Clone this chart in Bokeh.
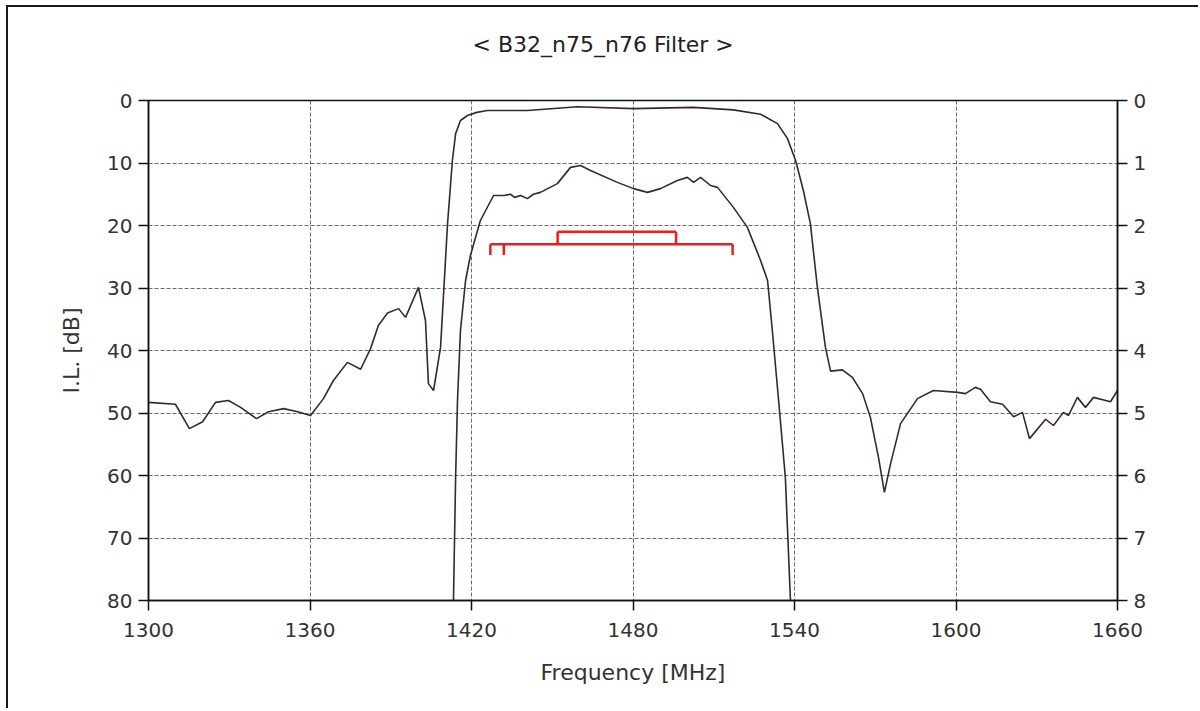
from bokeh.plotting import figure
from bokeh.models import Range1d, LinearAxis, FixedTicker, Title
from bokeh.embed import file_html
from bokeh.resources import INLINE

# Wide-band insertion loss (left axis, dB)
wide_freq = [1300.0, 1310.0, 1315.2, 1320.1, 1324.9, 1329.7, 1334.2, 1340.1, 1344.6, 1350.2,
             1355.4, 1360.2, 1365.0, 1368.7, 1373.9, 1378.8, 1382.5, 1385.4, 1388.8, 1392.9,
             1395.5, 1400.3, 1402.9, 1404.0, 1405.9, 1408.5, 1411.1, 1412.9, 1414.1, 1415.9,
             1418.5, 1422.0, 1425.9, 1440.8, 1459.4, 1480.2, 1502.5, 1517.3, 1527.4, 1533.7,
             1537.4, 1540.4, 1543.3, 1545.9, 1548.5, 1551.5, 1553.4, 1557.8, 1561.5, 1565.3,
             1568.2, 1571.2, 1573.4, 1575.7, 1579.4, 1585.7, 1591.6, 1600.6, 1603.5, 1607.2,
             1609.1, 1612.8, 1617.3, 1621.4, 1624.7, 1627.3, 1633.3, 1636.2, 1639.9, 1641.8,
             1645.1, 1648.1, 1651.1, 1657.4, 1660.0]
wide_il = [48.3, 48.6, 52.5, 51.4, 48.3, 48.0, 49.1, 50.9, 49.8, 49.3,
           49.8, 50.4, 47.7, 44.8, 41.9, 43.0, 39.7, 36.0, 34.0, 33.3,
           34.7, 29.9, 35.2, 45.3, 46.4, 39.5, 19.7, 9.6, 5.3, 3.2,
           2.4, 1.9, 1.6, 1.6, 1.0, 1.3, 1.1, 1.5, 2.2, 3.7,
           6.1, 9.6, 14.4, 19.7, 29.9, 39.5, 43.3, 43.1, 44.3, 46.9,
           50.7, 57.1, 62.7, 58.1, 51.7, 47.7, 46.4, 46.7, 46.9, 45.9,
           46.2, 48.2, 48.6, 50.6, 49.9, 54.1, 51.0, 52.0, 49.9, 50.4,
           47.5, 49.1, 47.5, 48.2, 46.4]

# Passband insertion loss (right axis, dB)
pb_freq = [1413.0, 1413.3, 1414.1, 1414.8, 1415.9, 1417.8, 1419.6, 1423.3, 1428.2, 1432.0,
           1434.5, 1436.0, 1438.2, 1440.8, 1443.0, 1445.6, 1451.9, 1456.8, 1460.5, 1464.2,
           1474.2, 1480.2, 1485.4, 1490.2, 1496.5, 1500.2, 1502.5, 1505.1, 1508.8, 1511.4,
           1517.3, 1522.5, 1527.4, 1530.0, 1531.8, 1534.1, 1536.6, 1538.5, 1538.8]
pb_il = [8.4, 8.0, 6.03, 4.8, 3.68, 2.88, 2.48, 1.92, 1.52, 1.52,
         1.50, 1.55, 1.52, 1.57, 1.50, 1.47, 1.33, 1.07, 1.04, 1.12,
         1.31, 1.41, 1.47, 1.41, 1.28, 1.23, 1.31, 1.23, 1.36, 1.39,
         1.71, 2.03, 2.56, 2.88, 3.70, 4.8, 6.03, 8.0, 8.4]

# Band edges (MHz)
band_names = ["n76", "n75", "B32"]
band_lo = [1427.0, 1432.0, 1452.0]
band_hi = [1432.0, 1517.0, 1496.0]

x_ticks = [1300, 1360, 1420, 1480, 1540, 1600, 1660]
left_ticks = [0, 10, 20, 30, 40, 50, 60, 70, 80]
right_ticks = [0, 1, 2, 3, 4, 5, 6, 7, 8]
title_text = "< B32_n75_n76 Filter >"

FONT = "DejaVu Sans"
CURVE = "#3a2828"
RED = "#ee1c1c"

p = figure(width=1192, height=703, output_backend="svg", toolbar_location=None,
           x_range=Range1d(1300, 1660), y_range=Range1d(80, 0),
           min_border_left=140, min_border_right=83, min_border_top=93, min_border_bottom=110)
p.margin = (5, 0, 0, 6)
p.extra_y_ranges = {"pb": Range1d(8, 0)}

p.background_fill_color = "white"
p.border_fill_color = "white"
p.outline_line_color = "#111111"
p.outline_line_width = 1.5
p.styles = {"border-top": "2px solid #1a1a1a", "border-left": "2px solid #1a1a1a"}

# spacer title (blank) next to the frame, real title further out
p.add_layout(Title(text=" ", text_font_size="10px", standoff=31), "above")
p.add_layout(Title(text=title_text, align="left", offset=324, standoff=0,
                   text_font=FONT, text_font_size="22px", text_font_style="normal",
                   text_color="#222222"), "above")

right_axis = LinearAxis(y_range_name="pb")
p.add_layout(right_axis, "right")

p.xaxis.ticker = FixedTicker(ticks=x_ticks)
p.yaxis[0].ticker = FixedTicker(ticks=left_ticks)
right_axis.ticker = FixedTicker(ticks=right_ticks)

p.xaxis.axis_label = "Frequency [MHz]"
p.yaxis[0].axis_label = "I.L. [dB]"

for ax in [p.xaxis[0], p.yaxis[0], right_axis]:
    ax.axis_line_color = "#111111"
    ax.axis_line_width = 1.5
    ax.major_tick_line_color = "#111111"
    ax.major_tick_line_width = 1.5
    ax.major_tick_out = 10
    ax.major_tick_in = 0
    ax.minor_tick_line_color = None
    ax.major_label_text_font = FONT
    ax.major_label_text_font_size = "20px"
    ax.major_label_text_color = "#333333"
    ax.major_label_standoff = 6
    ax.axis_label_text_font = FONT
    ax.axis_label_text_font_size = "22px"
    ax.axis_label_text_font_style = "normal"
    ax.axis_label_text_color = "#333333"

p.xaxis.major_label_standoff = 12
p.xaxis.axis_label_standoff = 20
p.yaxis[0].axis_label_standoff = 20

p.xgrid.ticker = FixedTicker(ticks=x_ticks)
p.ygrid.ticker = FixedTicker(ticks=left_ticks)
for g in [p.xgrid[0], p.ygrid[0]]:
    g.grid_line_color = "#6a6a6a"
    g.grid_line_dash = "4 2"
    g.grid_line_width = 1

p.line(wide_freq, wide_il, line_color=CURVE, line_width=1.6)
p.line(pb_freq, pb_il, line_color=CURVE, line_width=1.6, y_range_name="pb")

# Red band brackets (right axis scale)
lvl_main, lvl_tick, lvl_b32 = 2.3, 2.47, 2.1
lo_all = min(band_lo[0], band_lo[1])
hi_all = max(band_hi[0], band_hi[1])
p.segment(x0=[lo_all], y0=[lvl_main], x1=[hi_all], y1=[lvl_main],
          line_color=RED, line_width=2.5, y_range_name="pb")
edges = [band_lo[0], band_hi[0], band_hi[1]]
p.segment(x0=edges, y0=[lvl_main] * 3, x1=edges, y1=[lvl_tick] * 3,
          line_color=RED, line_width=2.5, y_range_name="pb")
p.segment(x0=[band_lo[2], band_lo[2], band_hi[2]],
          y0=[lvl_b32, lvl_b32, lvl_b32],
          x1=[band_hi[2], band_lo[2], band_hi[2]],
          y1=[lvl_b32, lvl_main, lvl_main],
          line_color=RED, line_width=2.5, y_range_name="pb")

open("out.html", "w").write(file_html(p, INLINE))
